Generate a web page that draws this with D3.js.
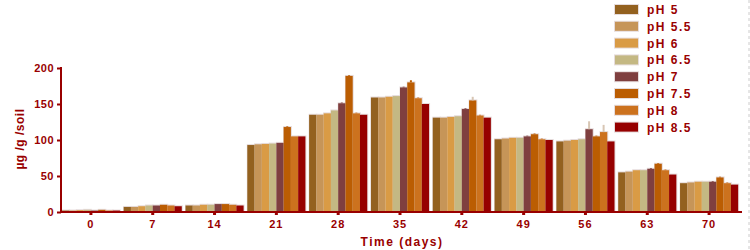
<!DOCTYPE html>
<html>
<head>
<meta charset="utf-8">
<script src="https://cdn.jsdelivr.net/npm/d3@7"></script>
<style>
  body { margin: 0; background: #fff; }
  text { font-family: "Liberation Sans", Arial, sans-serif; font-weight: bold; fill: #990000; }
</style>
</head>
<body>
<svg id="drawing_region"></svg>
<script>
// time points (days)
const days = ["0", "7", "14", "21", "28", "35", "42", "49", "56", "63", "70"];
const seriesNames = ["pH 5", "pH 5.5", "pH 6", "pH 6.5", "pH 7", "pH 7.5", "pH 8", "pH 8.5"];
const seriesColors = ["#93611f", "#c69558", "#d99b45", "#c4b883", "#7f3f3f", "#bb5d02", "#cc721e", "#960000"];

// values per series, one per time point (µg/g soil)
const pH5   = [2, 7, 9, 93, 135, 159, 131, 101, 98, 55, 40];
const pH55  = [2, 7, 9, 94, 135, 159, 131, 102, 99, 56, 41];
const pH6   = [2.5, 8, 10, 94.5, 137, 160, 132, 103, 100, 58, 42];
const pH65  = [3, 9, 10, 95, 141, 161, 133, 103, 101, 58, 42];
const pH7   = [2, 9, 11, 96, 151, 173, 143, 105, 115, 60, 42];
const pH75  = [3, 10, 11, 118, 189, 180, 155, 108, 105, 67, 48];
const pH8   = [2, 9, 10, 105, 137, 158, 134, 101, 111, 58, 40];
const pH85  = [2, 8, 9, 105, 135, 150, 131, 100, 98, 52, 38];
const values = [pH5, pH55, pH6, pH65, pH7, pH75, pH8, pH85];

// standard errors (only a few are visible)
const errPH7  = [0, 0, 0, 0, 1, 1, 1, 1, 11, 1, 1];
const errPH75 = [0, 0, 0, 1, 1, 3, 5, 1, 1, 1, 1];
const errPH8  = [0, 0, 0, 0, 1, 1, 1, 1, 10, 1, 1];
const errors = [null, null, null, null, errPH7, errPH75, errPH8, null];

const yTicks = [0, 50, 100, 150, 200];

const width = 750, height = 250;
const axisColor = "#990000";

const svg = d3.select("#drawing_region")
    .attr("width", width)
    .attr("height", height);

const xscale = d3.scaleBand()
    .domain(days)
    .range([60, 740])
    .paddingInner(0.06)
    .paddingOuter(0.03);

const x1 = d3.scaleBand()
    .domain(seriesNames)
    .range([0, xscale.bandwidth()]);

const yscale = d3.scaleLinear()
    .domain([0, 200])
    .range([212, 68]);

// faint dashed line on the right edge
svg.append("line")
    .attr("x1", 749).attr("x2", 749)
    .attr("y1", 0).attr("y2", height)
    .attr("stroke", "#ccc")
    .attr("stroke-dasharray", "3,3");

// bars
const groups = svg.selectAll(".grp")
    .data(days)
    .join("g")
    .attr("class", "grp")
    .attr("transform", d => `translate(${xscale(d)},0)`);

seriesNames.forEach((name, si) => {
    // light halo behind bars
    groups.append("rect")
        .attr("x", x1(name) - 0.5)
        .attr("y", (d, i) => yscale(values[si][i]) - 1)
        .attr("width", x1.bandwidth() + 1.5)
        .attr("height", (d, i) => yscale(0) - yscale(values[si][i]) + 1)
        .attr("fill", "#e6dcdc");
});

seriesNames.forEach((name, si) => {
    groups.append("rect")
        .attr("x", x1(name))
        .attr("y", (d, i) => yscale(values[si][i]))
        .attr("width", x1.bandwidth())
        .attr("height", (d, i) => yscale(0) - yscale(values[si][i]))
        .attr("fill", seriesColors[si]);
});

// error bars
seriesNames.forEach((name, si) => {
    if (!errors[si]) return;
    groups.append("line")
        .attr("x1", x1(name) + x1.bandwidth() / 2)
        .attr("x2", x1(name) + x1.bandwidth() / 2)
        .attr("y1", (d, i) => yscale(values[si][i]))
        .attr("y2", (d, i) => yscale(values[si][i] + errors[si][i]))
        .attr("stroke", (d, i) => errors[si][i] > 3 ? "#d8c6b4" : seriesColors[si])
        .attr("stroke-width", 2);
});

// y axis
const yaxis = d3.axisLeft(yscale)
    .tickValues(yTicks)
    .tickSize(4)
    .tickSizeOuter(0);

const yg = svg.append("g")
    .attr("transform", "translate(61,0)")
    .call(yaxis);
yg.select(".domain").attr("stroke", axisColor).attr("stroke-width", 2)
    .attr("d", "M0,67V213");
yg.selectAll(".tick line").attr("stroke", axisColor).attr("stroke-width", 2);
yg.selectAll(".tick text")
    .attr("x", -7)
    .attr("font-size", "11px")
    .attr("letter-spacing", "0.5px")
    .attr("fill", axisColor);

// x axis
const xaxis = d3.axisBottom(xscale)
    .tickSize(3)
    .tickSizeOuter(0);

const xg = svg.append("g")
    .attr("transform", "translate(0,212)")
    .call(xaxis);
xg.select(".domain").attr("stroke", axisColor).attr("stroke-width", 2)
    .attr("d", "M60,0H742");
xg.selectAll(".tick line").attr("stroke", axisColor).attr("stroke-width", 3);
xg.selectAll(".tick text")
    .attr("y", 8)
    .attr("font-size", "11px")
    .attr("letter-spacing", "1px")
    .attr("fill", axisColor);

// axis titles
svg.append("text")
    .attr("transform", "translate(24,139) rotate(-90)")
    .attr("text-anchor", "middle")
    .attr("font-size", "12px")
    .attr("letter-spacing", "0.5px")
    .text("µg /g /soil");

svg.append("text")
    .attr("x", 402)
    .attr("y", 246)
    .attr("text-anchor", "middle")
    .attr("font-size", "12px")
    .attr("letter-spacing", "1.5px")
    .text("Time (days)");

// legend
const legend = svg.append("g")
    .selectAll("g")
    .data(seriesNames)
    .join("g")
    .attr("transform", (d, i) => `translate(615,${5 + i * 16.8})`);

legend.append("rect")
    .attr("x", -1).attr("y", -1)
    .attr("width", 25).attr("height", 11)
    .attr("fill", "#e6dcdc");
legend.append("rect")
    .attr("width", 23).attr("height", 9)
    .attr("fill", (d, i) => seriesColors[i]);
legend.append("text")
    .attr("x", 32)
    .attr("y", 9)
    .attr("font-size", "12px")
    .attr("letter-spacing", "1.5px")
    .text(d => d);
</script>
</body>
</html>
